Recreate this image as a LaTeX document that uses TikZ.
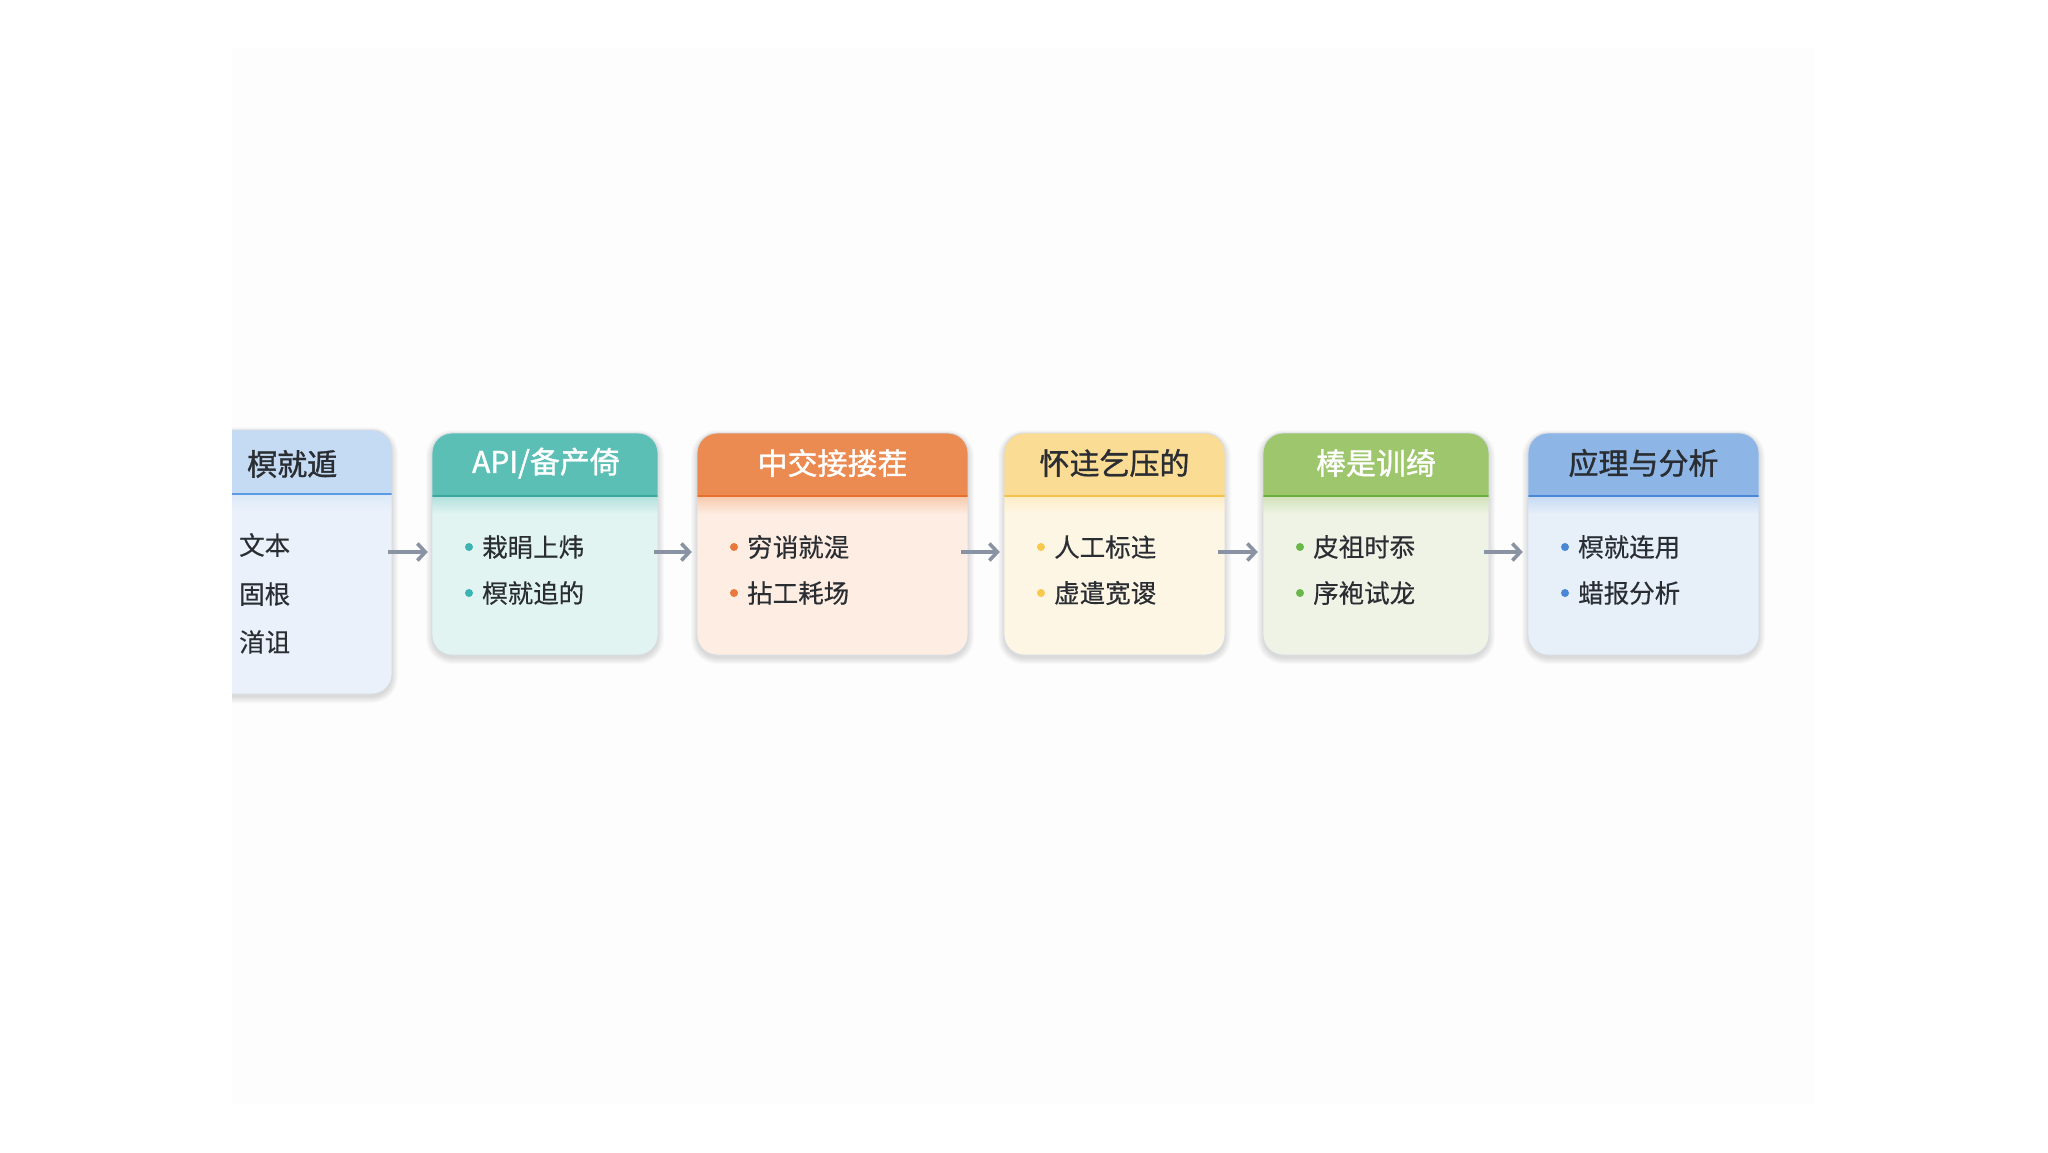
\documentclass[tikz,border=0pt]{standalone}
\usepackage{fontspec}
\setmainfont{Noto Sans CJK SC}
\newfontfamily\titlefont[FakeBold=1.2]{Noto Sans CJK SC}
\newfontfamily\itemfont[FakeBold=0.4]{Noto Sans CJK SC}
\usetikzlibrary{arrows.meta}
\definecolor{bgfaint}{HTML}{FDFDFD}
\definecolor{boxborder}{HTML}{D6DCE3}
\definecolor{arrowgray}{HTML}{8A93A3}
\definecolor{txtdark}{HTML}{2A2E33}
\definecolor{hA}{HTML}{C5DBF4}\definecolor{bA}{HTML}{EAF1FA}\definecolor{lA}{HTML}{5B9CE4}
\definecolor{hB}{HTML}{5BBFB6}\definecolor{bB}{HTML}{E2F4F2}\definecolor{lB}{HTML}{3AA89E}\definecolor{dB}{HTML}{3BB3B3}
\definecolor{hC}{HTML}{EC8B51}\definecolor{bC}{HTML}{FDEDE2}\definecolor{lC}{HTML}{E8702E}\definecolor{dC}{HTML}{E8783C}
\definecolor{hD}{HTML}{FBDC94}\definecolor{bD}{HTML}{FEF6E5}\definecolor{lD}{HTML}{F5C24A}\definecolor{dD}{HTML}{F8C94C}
\definecolor{hE}{HTML}{9DC66D}\definecolor{bE}{HTML}{EFF3E5}\definecolor{lE}{HTML}{6CAE3E}\definecolor{dE}{HTML}{6AB74A}
\definecolor{hF}{HTML}{8DB6E7}\definecolor{bF}{HTML}{E7EFF9}\definecolor{lF}{HTML}{4A87D8}\definecolor{dF}{HTML}{4A86D6}
\tikzset{
  titletext/.style={inner sep=0pt,font=\titlefont\fontsize{30}{34}\selectfont},
  itemtext/.style={inner sep=0pt,anchor=west,text=txtdark,font=\itemfont\fontsize{25.5}{29}\selectfont},
  boxanchor/.style={inner sep=0pt,draw=none},
  arr/.style={draw=arrowgray,line width=3.6pt,-{Straight Barb[length=8pt,width=17pt,line width=3.6pt]}},
  shadowlayer/.style={fill=black,opacity=0.018}
}
% soft shadow: #1 x1, #2 y1, #3 x2, #4 y2
\newcommand\softshadow[4]{%
  \foreach \s in {0,1,...,6}{%
    \fill[shadowlayer,rounded corners=20pt+\s pt] (#1-\s,#2+3-\s) rectangle (#3+\s,#4+3+\s);
  }%
}
% #1 name, #2 x1, #3 x2, #4 header col, #5 body col, #6 line col, #7 title col, #8 mid x, #9 title
\newcommand\stagebox[9]{%
  \softshadow{#2}{433}{#3}{655}
  \fill[#5,rounded corners=20pt] (#2,433) rectangle (#3,655);
  \begin{scope}
    \clip[rounded corners=20pt] (#2,433) rectangle (#3,655);
    \fill[#4] (#2,433) rectangle (#3,496);
    \shade[top color=#4!35!#5,bottom color=#5] (#2,497) rectangle (#3,514);
    \draw[#6,line width=2.6pt] (#2,496) -- (#3,496);
  \end{scope}
  \draw[boxborder,line width=0.9pt,rounded corners=20pt] (#2,433) rectangle (#3,655);
  \node[boxanchor,minimum width=#3pt-#2pt,minimum height=222pt] (#1) at (#8,544) {};
  \node[titletext,text=#7] (#1t) at (#8,463) {#9};
}
\newcommand\stageitems[5]{% #1 name, #2 x1, #3 dot col, #4 item1, #5 item2
  \fill[#3] (#2+37,547) circle (4pt);
  \fill[#3] (#2+37,593) circle (4pt);
  \node[itemtext] (#1i1) at (#2+50,547) {#4};
  \node[itemtext] (#1i2) at (#2+50,593) {#5};
}
\begin{document}
\begin{tikzpicture}[x=1pt,y=-1pt]
\useasboundingbox (0,0) rectangle (2048,1152);
\fill[white] (0,0) rectangle (2048,1152);
\fill[bgfaint] (232,48) rectangle (1815,1104);

% box 1 (cut at left edge)
\begin{scope}
  \clip (232,380) rectangle (460,760);
  \softshadow{150}{430}{392}{694}
  \fill[bA,rounded corners=20pt] (150,430) rectangle (392,694);
  \begin{scope}
    \clip[rounded corners=20pt] (150,430) rectangle (392,694);
    \fill[hA] (150,430) rectangle (392,494);
    \shade[top color=hA!35!bA,bottom color=bA] (150,495) rectangle (392,510);
    \draw[lA,line width=2.6pt] (150,494) -- (392,494);
  \end{scope}
  \draw[boxborder,line width=0.9pt,rounded corners=20pt] (150,430) rectangle (392,694);
\end{scope}
\node[boxanchor,minimum width=160pt,minimum height=264pt] (b1) at (312,562) {};
\node[titletext,text=txtdark,anchor=west] (b1t) at (247,464) {榠就遁};
\node[itemtext] (b1i1) at (239,545) {文本};
\node[itemtext] (b1i2) at (239,594) {固根};
\node[itemtext] (b1i3) at (239,642) {渞诅};

\stagebox{b2}{432}{658}{hB}{bB}{lB}{white}{546}{API/备产倚}
\stageitems{b2}{432}{dB}{栽睊上炜}{榠就追的}

\stagebox{b3}{697}{968}{hC}{bC}{lC}{white}{832.5}{中交接搂茬}
\stageitems{b3}{697}{dC}{穷诮就湜}{拈工耗场}

\stagebox{b4}{1004}{1225}{hD}{bD}{lD}{txtdark}{1114.5}{怀迬乞压的}
\stageitems{b4}{1004}{dD}{人工标迬}{虚遣宽谡}

\stagebox{b5}{1263}{1489}{hE}{bE}{lE}{white}{1376}{棒是训绮}
\stageitems{b5}{1263}{dE}{皮祖时忝}{序袍试龙}

\stagebox{b6}{1528}{1759}{hF}{bF}{lF}{txtdark}{1643.5}{应理与分析}
\stageitems{b6}{1528}{dF}{榠就连用}{蜡报分析}

\coordinate (ay) at (0,552);
\draw[arr,shorten <=-4pt,shorten >=5pt] (b1.east |- ay) -- (b2.west |- ay);
\draw[arr,shorten <=-5pt,shorten >=5pt] (b2.east |- ay) -- (b3.west |- ay);
\draw[arr,shorten <=-7pt,shorten >=4pt] (b3.east |- ay) -- (b4.west |- ay);
\draw[arr,shorten <=-7pt,shorten >=5pt] (b4.east |- ay) -- (b5.west |- ay);
\draw[arr,shorten <=-5pt,shorten >=5pt] (b5.east |- ay) -- (b6.west |- ay);
\end{tikzpicture}
\end{document}
